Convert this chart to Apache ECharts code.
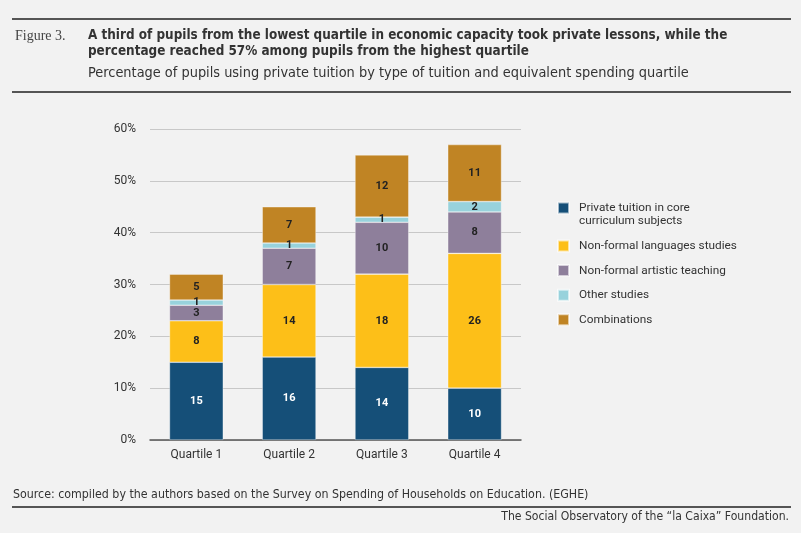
<!DOCTYPE html>
<html><head><meta charset="utf-8">
<script src="https://cdn.jsdelivr.net/npm/echarts@6/dist/echarts.min.js"></script>
<style>html,body{margin:0;padding:0;background:#f2f2f2;}#c{width:801px;height:533px;}</style>
</head><body><div id="c"></div>
<script>
var categories = ['Quartile 1','Quartile 2','Quartile 3','Quartile 4'];
var seriesNames = ['Private tuition in core curriculum subjects','Non-formal languages studies','Non-formal artistic teaching','Other studies','Combinations'];
var coreSubjects = [15,16,14,10];
var languages = [8,14,18,26];
var artistic = [3,7,10,8];
var otherStudies = [1,1,1,2];
var combinations = [5,7,12,11];
var yTicks = [0,10,20,30,40,50,60];

var colors = ['#154f78','#fdbf18','#8e7f9b','#98d2dc','#c08424'];
var values = [coreSubjects, languages, artistic, otherStudies, combinations];
var FONT = 'Roboto';
var COND = '"Liberation Sans Narrow","DejaVu Sans Condensed",sans-serif';

var series = seriesNames.map(function(n,i){
  return {
    name:n, type:'bar', stack:'total', barWidth:'58%',
    data: values[i],
    itemStyle:{color:colors[i], borderColor:'rgba(255,255,255,0.6)', borderWidth:0.6},
    label:{show:true, position:'inside', fontFamily:FONT, fontWeight:'bold', fontSize:11,
      color: i===0 ? '#ffffff' : '#222222'}
  };
});

var chart = echarts.init(document.getElementById('c'));
chart.setOption({
  backgroundColor:'#f2f2f2',
  animation:false,
  grid:{left:150, right:280, top:129, bottom:93},
  xAxis:{type:'category', data:categories,
    axisLine:{lineStyle:{color:'#555', width:1.5}}, axisTick:{show:false},
    axisLabel:{fontFamily:FONT, fontSize:12, color:'#333', margin:9}},
  yAxis:{type:'value', min:yTicks[0], max:yTicks[yTicks.length-1], interval:10,
    axisLine:{show:false}, axisTick:{show:false},
    splitLine:{lineStyle:{color:'#c8c8c8', width:1}},
    axisLabel:{fontFamily:FONT, fontSize:12, color:'#333', margin:14, formatter:'{value}%'}},
  legend:[
    {data:[seriesNames[0]], orient:'vertical', left:557, top:201, padding:0,
     itemWidth:11, itemHeight:11, icon:'rect',
     formatter:function(){return 'Private tuition in core';},
     textStyle:{fontFamily:FONT, fontSize:11.8, color:'#333', lineHeight:14, padding:[0,0,0,5]}},
    {data:seriesNames.slice(1), orient:'vertical', left:557, top:239, padding:0,
     itemWidth:11, itemHeight:11, itemGap:10.6, icon:'rect',
     textStyle:{fontFamily:FONT, fontSize:11.8, color:'#333', lineHeight:14, padding:[0,0,0,5]}}
  ],
  graphic:[
    {type:'line', shape:{x1:12,y1:19,x2:791,y2:19}, style:{stroke:'#555',lineWidth:2}},
    {type:'line', shape:{x1:12,y1:92,x2:791,y2:92}, style:{stroke:'#555',lineWidth:2}},
    {type:'line', shape:{x1:12,y1:507,x2:791,y2:507}, style:{stroke:'#555',lineWidth:2}},
    {type:'text', left:15, top:29, style:{text:'Figure 3.', font:'14px "Liberation Serif", serif', fill:'#444'}},
    {type:'text', left:88, top:28, style:{text:'A third of pupils from the lowest quartile in economic capacity took private lessons, while the\npercentage reached 57% among pupils from the highest quartile', font:'bold 13.4px '+COND, fill:'#333', lineHeight:16}},
    {type:'text', left:88, top:66, style:{text:'Percentage of pupils using private tuition by type of tuition and equivalent spending quartile', font:'14.4px '+COND, fill:'#333'}},
    {type:'text', left:579, top:215, style:{text:'curriculum subjects', font:'11.8px '+FONT, fill:'#333'}},
    {type:'text', left:13, top:489, style:{text:'Source: compiled by the authors based on the Survey on Spending of Households on Education. (EGHE)', font:'12.3px '+COND, fill:'#333'}},
    {type:'text', right:12, top:511, style:{text:'The Social Observatory of the \u201Cla Caixa\u201D Foundation.', font:'12.1px '+COND, fill:'#333'}}
  ],
  series:series
});
</script></body></html>
